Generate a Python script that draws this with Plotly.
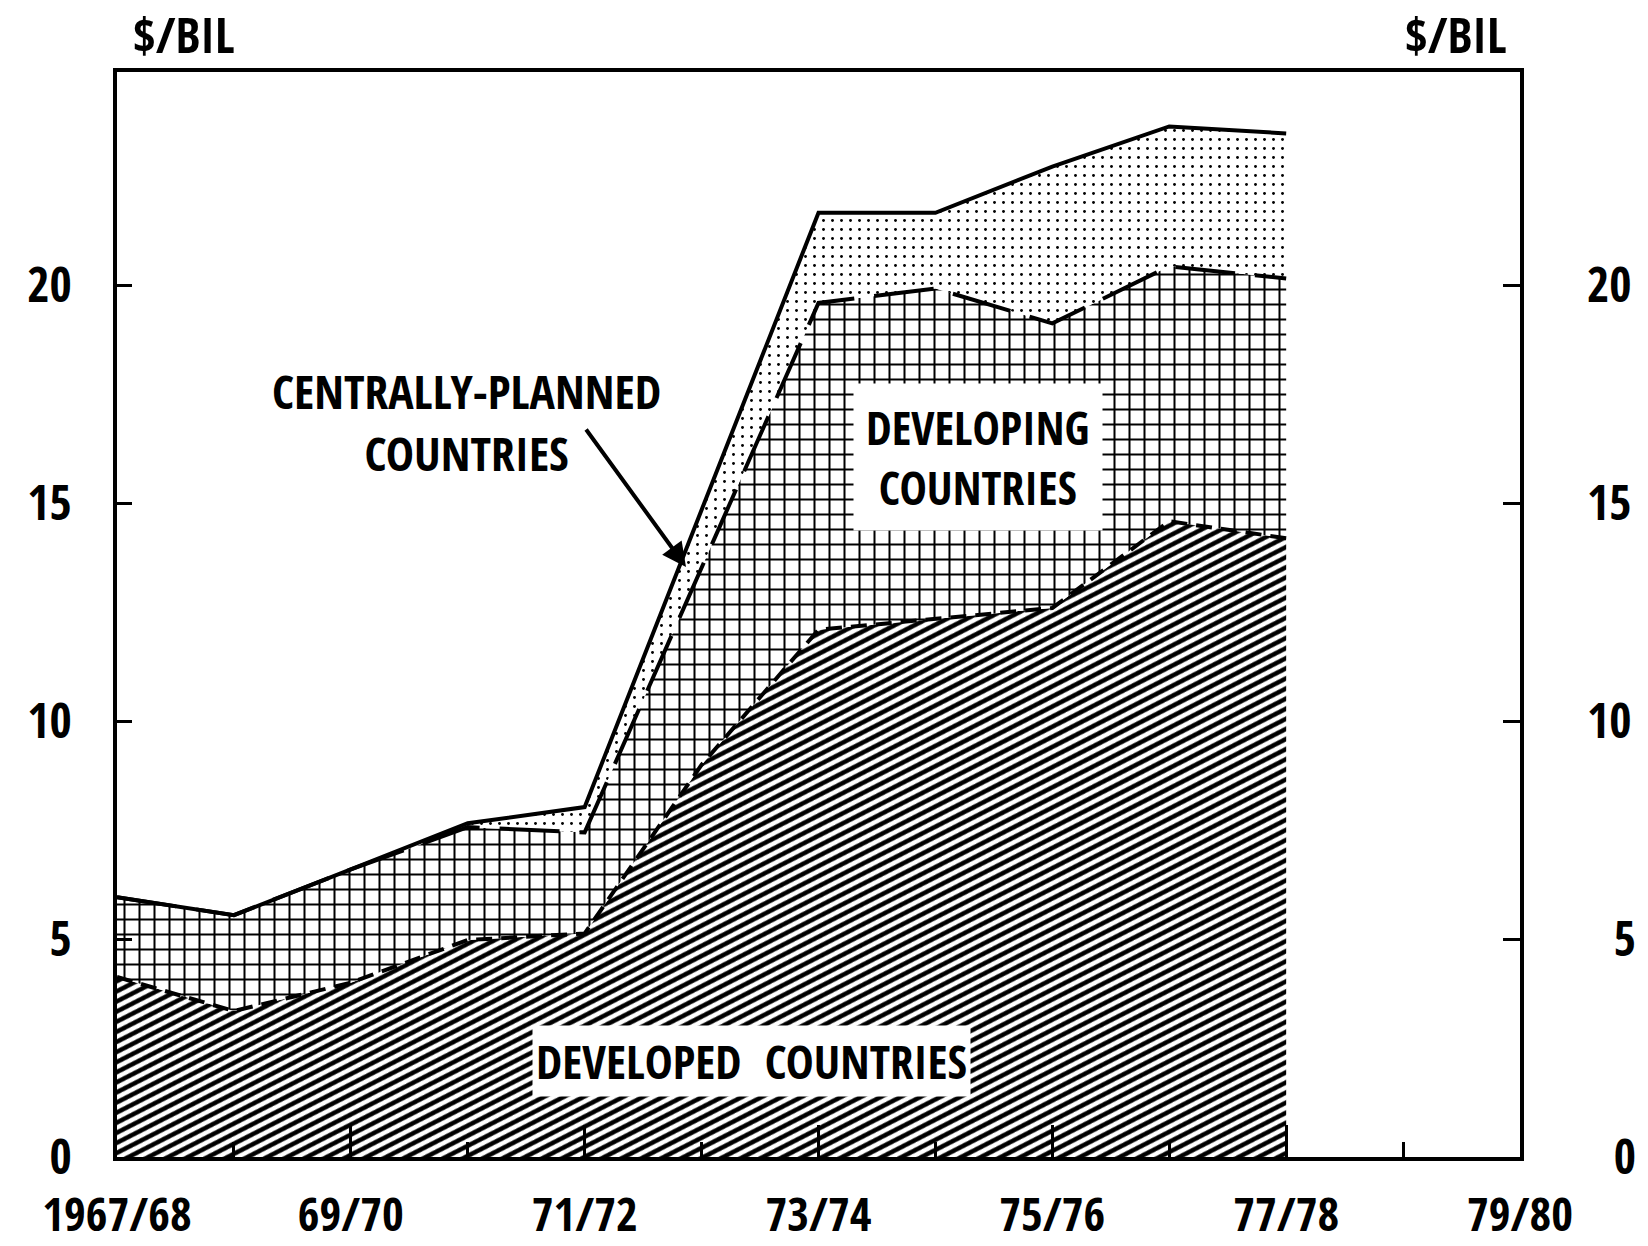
import plotly.graph_objects as go

# ---- data ----
years = ["1967/68", "68/69", "69/70", "70/71", "71/72", "72/73",
         "73/74", "74/75", "75/76", "76/77", "77/78"]
tick_labels = ["1967/68", "69/70", "71/72", "73/74", "75/76", "77/78", "79/80"]
developed = [4.13, 3.35, 4.0, 4.98, 5.13, 9.0, 12.1, 12.36, 12.6, 14.59, 14.2]
developing = [1.83, 2.2, 2.6, 2.59, 2.32, 4.5, 7.5, 7.57, 6.53, 5.85, 5.96]
centrally_planned = [0.0, 0.0, 0.0, 0.09, 0.58, 1.34, 2.07, 1.74, 3.6, 3.21, 3.33]
y_ticks = [0, 5, 10, 15, 20]
y_tick_text = ["0", "5", "10", "15", "20"]
FIGSP = "\u2007"  # figure space, keeps right-hand labels right-aligned
y_tick_text_right = [t if len(t) > 1 else FIGSP + t for t in y_tick_text]

xi = list(range(len(years)))
FONT = "Open Sans Condensed, Roboto Condensed, DejaVu Sans Condensed, sans-serif"

# figure geometry (page body margin is removed below, so page px == figure px)
W, H = 1648, 1246
PL, PR, PT, PB = 117, 1520, 72, 1157          # plot area in pixels
ML, MR, MT, MB = PL, W - PR, PT, H - PB

fig = go.Figure()
fig.add_trace(go.Scatter(
    x=xi, y=developed, stackgroup="s", mode="lines",
    line=dict(color="black", width=4, dash="16px,9px"),
    fillcolor="white",
    fillpattern=dict(shape="/", size=9, solidity=0.5, fgcolor="black",
                     bgcolor="white", fillmode="replace"),
    name="Developed", hoverinfo="skip"))
fig.add_trace(go.Scatter(
    x=xi, y=developing, stackgroup="s", mode="lines",
    line=dict(color="black", width=4, dash="60px,20px"),
    fillcolor="white",
    fillpattern=dict(shape="+", size=15, solidity=0.25, fgcolor="black",
                     bgcolor="white", fillmode="replace"),
    name="Developing", hoverinfo="skip"))
fig.add_trace(go.Scatter(
    x=xi, y=centrally_planned, stackgroup="s", mode="lines",
    line=dict(color="black", width=4),
    fillcolor="white",
    fillpattern=dict(shape=".", size=9, solidity=0.08, fgcolor="black",
                     bgcolor="white", fillmode="replace"),
    name="Centrally-planned", hoverinfo="skip"))
# invisible copy so that the right-hand axis is drawn
fig.add_trace(go.Scatter(
    x=xi, y=developed, yaxis="y2", mode="lines",
    line=dict(width=0, color="rgba(0,0,0,0)"), hoverinfo="skip",
    showlegend=False))

axis_font = dict(family=FONT, size=48, color="black", weight="bold")

fig.update_layout(
    width=W, height=H,
    margin=dict(l=ML, r=MR, t=MT, b=MB, autoexpand=False),
    paper_bgcolor="white", plot_bgcolor="white",
    showlegend=False,
    xaxis=dict(
        range=[0, 12], tickmode="array", automargin=False,
        tickvals=[0, 2, 4, 6, 8, 10, 12], ticktext=tick_labels,
        ticks="inside", ticklen=32, tickwidth=3, tickcolor="black",
        minor=dict(tickvals=[1, 3, 5, 7, 9, 11], ticks="inside",
                   ticklen=15, tickwidth=3, tickcolor="black"),
        showline=True, linewidth=3.5, linecolor="black", mirror=True,
        showgrid=False, zeroline=False,
        tickfont=dict(family=FONT, size=47, color="black", weight="bold"),
        ticklabelstandoff=14),
    yaxis=dict(
        range=[0, 24.9], tickmode="array", tickvals=y_ticks,
        ticktext=y_tick_text, automargin=False,
        ticks="inside", ticklen=15, tickwidth=3, tickcolor="black",
        showline=True, linewidth=3.5, linecolor="black", mirror=True,
        showgrid=False, zeroline=False, tickfont=axis_font,
        ticklabelstandoff=32),
    yaxis2=dict(
        range=[0, 24.9], tickmode="array", tickvals=y_ticks,
        ticktext=y_tick_text_right, automargin=False,
        overlaying="y", side="right",
        ticks="inside", ticklen=17, tickwidth=3, tickcolor="black",
        showline=False, showgrid=False, zeroline=False, tickfont=axis_font,
        ticklabelstandoff=66),
)

X0, XS = float(PL), (PR - PL) / 12.0
Y0, YS = float(PB), (PB - PT) / 24.9


def dx(px):
    return (px - X0) / XS


def dy(py):
    return (Y0 - py) / YS


def paper_x(px):
    return (px - ML) / (W - ML - MR)


def paper_y(py):
    return 1 - (py - MT) / (H - MT - MB)


title_font = dict(family=FONT, size=49, color="black", weight="bold")
fig.add_annotation(text="$/BIL", xref="paper", yref="paper",
                   x=paper_x(184), y=paper_y(0), showarrow=False,
                   font=title_font, xanchor="center", yanchor="top",
                   borderpad=0)
fig.add_annotation(text="$/BIL", xref="paper", yref="paper",
                   x=paper_x(1456), y=paper_y(0), showarrow=False,
                   font=title_font, xanchor="center", yanchor="top",
                   borderpad=0)

fig.add_annotation(text="DEVELOPED  COUNTRIES", x=dx(751), y=dy(1061),
                   showarrow=False,
                   font=dict(family=FONT, size=47, color="black", weight="bold"),
                   bgcolor="white", borderpad=3,
                   xanchor="center", yanchor="middle")
fig.add_annotation(text="DEVELOPING<br>COUNTRIES", x=dx(978), y=dy(457),
                   showarrow=False,
                   font=dict(family=FONT, size=46, color="black", weight="bold"),
                   bgcolor="white", borderpad=12,
                   xanchor="center", yanchor="middle")
fig.add_annotation(text="CENTRALLY-PLANNED<br>COUNTRIES", x=dx(466), y=dy(421),
                   showarrow=False,
                   font=dict(family=FONT, size=47.5, color="black", weight="bold"),
                   xanchor="center", yanchor="middle")
fig.add_annotation(text="", x=dx(686), y=dy(567), ax=585 - 686, ay=428 - 567,
                   showarrow=True, arrowhead=2, arrowsize=1.2, arrowwidth=4,
                   arrowcolor="black")

# remove the page margin and tilt the diagonal hatching to the original's angle
post = """
(function(){
  document.body.style.margin = '0';
  document.body.style.padding = '0';
  function tilt(){
    var gd = document.getElementById('{plot_id}');
    if(!gd) return;
    gd.querySelectorAll('pattern').forEach(function(p){
      var path = p.querySelector('path');
      if(path && (path.getAttribute('d')||'').indexOf('M-') === 0){
        p.setAttribute('patternTransform', 'rotate(18)');
      }
    });
  }
  tilt(); setTimeout(tilt, 50); setTimeout(tilt, 400);
})();
"""

fig.write_html("out.html", post_script=post,
               config={"displayModeBar": False})
